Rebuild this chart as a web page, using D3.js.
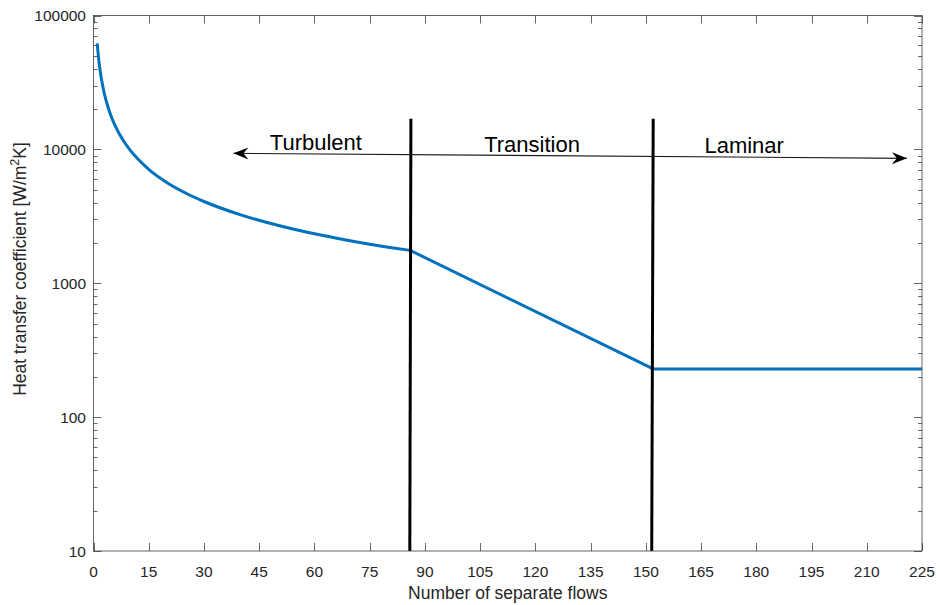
<!DOCTYPE html>
<html>
<head>
<meta charset="utf-8">
<script src="https://cdn.jsdelivr.net/npm/d3@7"></script>
<style>
  html, body { margin: 0; padding: 0; background: #fff; }
  svg { display: block; font-family: "Liberation Sans", Arial, Helvetica, sans-serif; }
</style>
</head>
<body>
<svg id="chart" width="940" height="605"></svg>
<script>
// Turbulent regime: heat transfer coefficient vs number of separate flows
const turbFlows = [1, 1.5, 2, 2.5, 3, 4, 5, 6, 7, 8, 10, 12, 15, 20, 25, 30, 40, 50, 60, 70, 80, 86];
const turbHTC   = [62000, 44800, 35600, 29800, 25700, 20450, 17100, 14800, 13070, 11750, 9830, 8500, 7100, 5640, 4720, 4080, 3240, 2710, 2340, 2070, 1860, 1760];

// Transition regime (straight in log space between the two boundaries)
const transFlows = [86, 152];
const transHTC   = [1760, 229];

// Laminar regime: constant coefficient
const lamFlows = [152, 225];
const lamHTC   = [229, 229];

// Regime boundaries (slightly slanted vertical markers): [x at top, x at bottom]
const boundaryTopX    = [86.2, 152.0];
const boundaryBottomX = [85.9, 151.6];
const boundaryTopY = 16900;

// Axis ticks
const xTicks = [0, 15, 30, 45, 60, 75, 90, 105, 120, 135, 150, 165, 180, 195, 210, 225];
const yTicks = [10, 100, 1000, 10000, 100000];

// Regime labels and the double arrow, in data coordinates
const regimeNames = ["Turbulent", "Transition", "Laminar"];
const regimeX = [60.4, 119.1, 176.7];
const regimeY = [9890, 9510, 9350];
const arrowFrom = [38.0, 9350];
const arrowTo   = [220.9, 8570];

const svg = d3.select("#chart");
const L = 93.5, R = 922, T = 15.5, B = 551;

const x = d3.scaleLinear().domain([0, 225]).range([L, R]);
const y = d3.scaleLog().domain([10, 100000]).range([B, T]);

const axisColor = "#262626";
const g = svg.append("g");

// Minor log ticks
const minor = [];
for (let d = 10; d < 100000; d *= 10) for (let k = 2; k <= 9; k++) minor.push(d * k);

// Tick marks (inward) on all four sides
const tickG = g.append("g").attr("stroke", "#404040").attr("stroke-width", 0.8);
xTicks.forEach(v => {
  const px = Math.round(x(v)) + 0.5;
  tickG.append("line").attr("x1", px).attr("x2", px).attr("y1", B).attr("y2", B - 8);
  tickG.append("line").attr("x1", px).attr("x2", px).attr("y1", T).attr("y2", T + 8);
});
yTicks.forEach(v => {
  const py = Math.round(y(v)) + 0.5;
  tickG.append("line").attr("x1", L).attr("x2", L + 8).attr("y1", py).attr("y2", py);
  tickG.append("line").attr("x1", R).attr("x2", R - 8).attr("y1", py).attr("y2", py);
});
minor.forEach(v => {
  const py = Math.round(y(v)) + 0.5;
  tickG.append("line").attr("x1", L).attr("x2", L + 4).attr("y1", py).attr("y2", py);
  tickG.append("line").attr("x1", R).attr("x2", R - 4).attr("y1", py).attr("y2", py);
});

// Tick labels
const tickFont = 15.5;
g.append("g").selectAll("text").data(xTicks).join("text")
  .attr("x", d => x(d)).attr("y", 577)
  .attr("text-anchor", "middle").attr("font-size", tickFont).attr("fill", axisColor)
  .text(d => d);
g.append("g").selectAll("text").data(yTicks).join("text")
  .attr("x", 86).attr("y", d => y(d) + 5.5)
  .attr("text-anchor", "end").attr("font-size", tickFont).attr("fill", axisColor)
  .text(d => d);

// Axis titles
g.append("text").attr("x", (L + R) / 2).attr("y", 599)
  .attr("text-anchor", "middle").attr("font-size", 17.5).attr("fill", axisColor)
  .text("Number of separate flows");
const yt = g.append("text")
  .attr("transform", "translate(26,269) rotate(-90)")
  .attr("text-anchor", "middle").attr("font-size", 17.5).attr("fill", axisColor);
yt.append("tspan").text("Heat transfer coefficient [W/m");
yt.append("tspan").attr("dy", -7).attr("font-size", 12.5).text("2");
yt.append("tspan").attr("dy", 7).text("K]");

// Data curve: smooth turbulent part, then straight transition and laminar parts
const turbPts = turbFlows.map((f, i) => [f, turbHTC[i]]);
const restPts = [
  ...transFlows.slice(1).map((f, i) => [f, transHTC[i + 1]]),
  ...lamFlows.slice(1).map((f, i) => [f, lamHTC[i + 1]])
];
const smooth = d3.line().x(d => x(d[0])).y(d => y(d[1])).curve(d3.curveMonotoneX);
const pathD = smooth(turbPts) + restPts.map(d => "L" + x(d[0]) + "," + y(d[1])).join("");
g.append("path")
  .attr("d", pathD)
  .attr("fill", "none").attr("stroke", "#0072BD").attr("stroke-width", 3)
  .attr("stroke-linejoin", "round");

// Regime boundaries
boundaryTopX.forEach((tx, i) => {
  g.append("line")
    .attr("x1", x(tx)).attr("y1", y(boundaryTopY))
    .attr("x2", x(boundaryBottomX[i])).attr("y2", y(10))
    .attr("stroke", "#000").attr("stroke-width", 3);
});

// Double arrow spanning the regimes
const ax1 = x(arrowFrom[0]), ay1 = y(arrowFrom[1]);
const ax2 = x(arrowTo[0]), ay2 = y(arrowTo[1]);
g.append("line").attr("x1", ax1).attr("y1", ay1).attr("x2", ax2).attr("y2", ay2)
  .attr("stroke", "#1a1a1a").attr("stroke-width", 1.1);
function head(tx, ty, fx, fy) {
  const ang = Math.atan2(ty - fy, tx - fx);
  const len = 15, half = 6, notch = 10;
  const pts = [
    [0, 0], [-len, -half], [-notch, 0], [-len, half]
  ].map(([a, b]) => [tx + a * Math.cos(ang) - b * Math.sin(ang), ty + a * Math.sin(ang) + b * Math.cos(ang)]);
  g.append("path").attr("d", "M" + pts.map(p => p.join(",")).join("L") + "Z").attr("fill", "#000");
}
head(ax1, ay1, ax2, ay2);
head(ax2, ay2, ax1, ay1);

// Regime labels
g.append("g").selectAll("text").data(regimeNames).join("text")
  .attr("x", (d, i) => x(regimeX[i])).attr("y", (d, i) => y(regimeY[i]))
  .attr("text-anchor", "middle").attr("font-size", 22).attr("fill", "#000")
  .text(d => d);

// Axes box
g.append("rect").attr("x", L).attr("y", T).attr("width", R - L).attr("height", B - T)
  .attr("fill", "none").attr("stroke", "#404040").attr("stroke-width", 0.8);
</script>
</body>
</html>
